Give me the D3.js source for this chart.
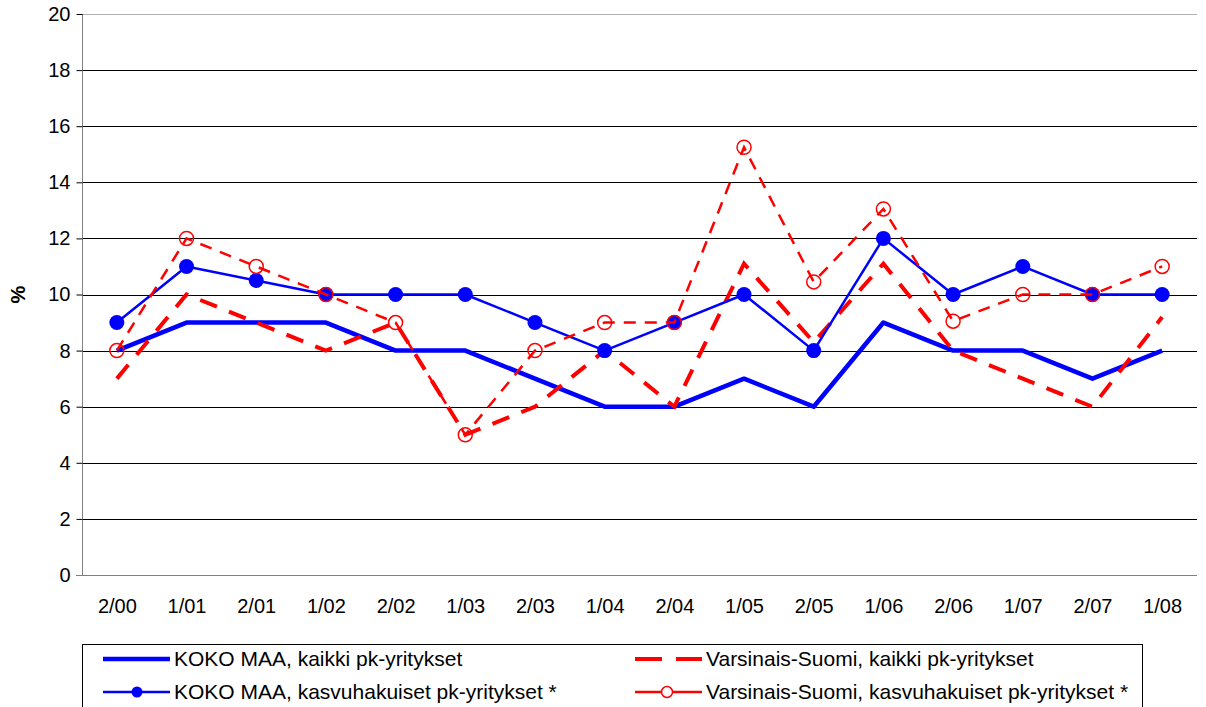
<!DOCTYPE html>
<html>
<head>
<meta charset="utf-8">
<script src="https://cdn.jsdelivr.net/npm/d3@7"></script>
<style>
  body { margin: 0; background: #fff; }
  svg { display: block; font-family: Arial, "Liberation Sans", sans-serif; }
</style>
</head>
<body>
<div class="chart"></div>
<script>
// Data
var periods = ["2/00", "1/01", "2/01", "1/02", "2/02", "1/03", "2/03", "1/04",
               "2/04", "1/05", "2/05", "1/06", "2/06", "1/07", "2/07", "1/08"];
var kokoKaikki = [8, 9, 9, 9, 8, 8, 7, 6, 6, 7, 6, 9, 8, 8, 7, 8];
var kokoKasvu = [9, 11, 10.5, 10, 10, 10, 9, 8, 9, 10, 8, 12, 10, 11, 10, 10];
var vsKaikki = [7, 10, 9, 8, 9, 5, 6, 8, 6, 11.1, 8.3, 11.1, 8, 7, 6, 9.2];
var vsKasvu = [8, 12, 11, 10, 9, 5, 8, 9, 9, 15.25, 10.45, 13.05, 9.05, 10, 10, 11];
var yTicks = [0, 2, 4, 6, 8, 10, 12, 14, 16, 18, 20];
var legendNames = ["KOKO MAA, kaikki pk-yritykset",
                   "Varsinais-Suomi, kaikki pk-yritykset",
                   "KOKO MAA, kasvuhakuiset pk-yritykset *",
                   "Varsinais-Suomi, kasvuhakuiset pk-yritykset *"];

var svgWidth = 1206;
var svgHeight = 707;
var margin = {top: 14, right: 9, bottom: 132, left: 82};
var width = svgWidth - margin.left - margin.right;
var height = svgHeight - margin.top - margin.bottom;

var svg = d3.select(".chart")
    .append("svg")
    .attr("width", svgWidth)
    .attr("height", svgHeight);

var chart = svg.append("g")
    .attr("transform", "translate(" + margin.left + "," + margin.top + ")");

var xScale = d3.scalePoint()
    .domain(periods)
    .range([0, width])
    .padding(0.5);

var yScale = d3.scaleLinear()
    .domain([0, 20])
    .range([height, 0]);

// gridlines
chart.selectAll(".grid")
    .data(yTicks.filter(function(d) { return d > 0; }))
    .enter()
    .append("line")
    .attr("class", "grid")
    .attr("x1", 0)
    .attr("x2", width)
    .attr("y1", function(d) { return Math.round(yScale(d)) + 0.5; })
    .attr("y2", function(d) { return Math.round(yScale(d)) + 0.5; })
    .style("stroke", function(d) { return d == 20 ? "#b0b0b0" : "#000"; })
    .style("stroke-width", 1);

// y axis
var leftAxis = d3.axisLeft(yScale)
    .tickValues(yTicks)
    .tickSize(6)
    .tickPadding(6);

var yAxis = chart.append("g")
    .attr("class", "y-axis")
    .attr("transform", "translate(0.5,0)")
    .call(leftAxis);
yAxis.select(".domain").style("stroke", "#808080").attr("d", "M0," + 0 + "V" + height);
yAxis.selectAll(".tick line").style("stroke", "#000");
yAxis.selectAll("text")
    .style("font-size", "20px")
    .style("fill", "#000")
    .style("font-family", "Arial, 'Liberation Sans', sans-serif");

// x axis
var bottomAxis = d3.axisBottom(xScale)
    .tickSize(0)
    .tickPadding(23);

var xAxis = chart.append("g")
    .attr("class", "x-axis")
    .attr("transform", "translate(0," + (Math.round(height) + 0.5) + ")")
    .call(bottomAxis);
xAxis.select(".domain").style("stroke", "#808080").attr("d", "M-6,0H" + width);
xAxis.selectAll("text")
    .style("font-size", "20px")
    .style("fill", "#000")
    .style("font-family", "Arial, 'Liberation Sans', sans-serif");

// y axis label
svg.append("text")
    .attr("transform", "translate(25," + (margin.top + yScale(10)) + ") rotate(-90)")
    .attr("text-anchor", "middle")
    .style("font-size", "20px")
    .style("font-weight", "bold")
    .text("%");

var line = d3.line()
    .x(function(d, i) { return xScale(periods[i]); })
    .y(function(d) { return yScale(d); });

// series
chart.append("path")
    .datum(kokoKaikki)
    .attr("d", line)
    .style("fill", "none")
    .style("stroke", "#0000ff")
    .style("stroke-width", 4.5)
    .style("stroke-linejoin", "round");

chart.append("path")
    .datum(vsKaikki)
    .attr("d", line)
    .style("fill", "none")
    .style("stroke", "#ff0000")
    .style("stroke-width", 4)
    .style("stroke-dasharray", "18,13");

chart.append("path")
    .datum(kokoKasvu)
    .attr("d", line)
    .style("fill", "none")
    .style("stroke", "#0000ff")
    .style("stroke-width", 2.5)
    .style("stroke-linejoin", "round");

chart.selectAll(".dot")
    .data(kokoKasvu)
    .enter()
    .append("circle")
    .attr("class", "dot")
    .attr("cx", function(d, i) { return xScale(periods[i]); })
    .attr("cy", function(d) { return yScale(d); })
    .attr("r", 7.5)
    .style("fill", "#0000ff");

chart.append("path")
    .datum(vsKasvu)
    .attr("d", line)
    .style("fill", "none")
    .style("stroke", "#ff0000")
    .style("stroke-width", 2.5)
    .style("stroke-dasharray", "12,9");

chart.selectAll(".ring")
    .data(vsKasvu)
    .enter()
    .append("circle")
    .attr("class", "ring")
    .attr("cx", function(d, i) { return xScale(periods[i]); })
    .attr("cy", function(d) { return yScale(d); })
    .attr("r", 7)
    .style("fill", "none")
    .style("stroke", "#ff0000")
    .style("stroke-width", 1.5);

// legend
var legend = svg.append("g");
legend.append("rect")
    .attr("x", 82.5)
    .attr("y", 644.5)
    .attr("width", 1060)
    .attr("height", 80)
    .style("fill", "#fff")
    .style("stroke", "#000")
    .style("stroke-width", 1);

var legendPos = [
  {x: 103, y: 659, color: "#0000ff", w: 4.5, dash: null, marker: null},
  {x: 635, y: 659, color: "#ff0000", w: 4, dash: "27,14", marker: null},
  {x: 103, y: 692, color: "#0000ff", w: 2.5, dash: null, marker: "dot"},
  {x: 635, y: 692, color: "#ff0000", w: 2.5, dash: null, marker: "ring"}
];

legendPos.forEach(function(p, i) {
  legend.append("line")
    .attr("x1", p.x)
    .attr("x2", p.x + 67)
    .attr("y1", p.y)
    .attr("y2", p.y)
    .style("stroke", p.color)
    .style("stroke-width", p.w)
    .style("stroke-dasharray", p.dash);
  if (p.marker == "dot") {
    legend.append("circle").attr("cx", p.x + 34).attr("cy", p.y).attr("r", 5.5)
      .style("fill", p.color);
  } else if (p.marker == "ring") {
    legend.append("circle").attr("cx", p.x + 32).attr("cy", p.y).attr("r", 5.5)
      .style("fill", "#fff").style("stroke", p.color).style("stroke-width", 1.5);
  }
  legend.append("text")
    .attr("x", p.x + 71)
    .attr("y", p.y)
    .attr("dy", "0.35em")
    .style("font-size", "21px")
    .text(legendNames[i]);
});
</script>
</body>
</html>
